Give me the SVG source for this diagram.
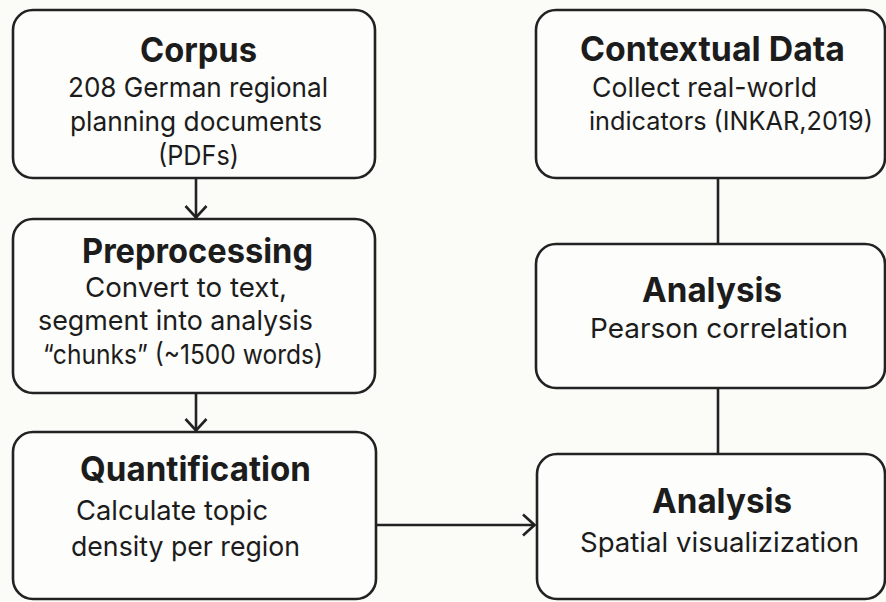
<svg xmlns="http://www.w3.org/2000/svg" width="886" height="602" viewBox="0 0 886 602">
<defs>
<style>
.box{fill:#fdfdfb;stroke:#222;stroke-width:2.6}
.t{font-family:Inter,"Liberation Sans",sans-serif;font-weight:700;font-size:34px;fill:#1c1c1c}
.b{font-family:Inter,"Liberation Sans",sans-serif;font-weight:400;font-size:27.5px;fill:#1c1c1c}
.ln{fill:none;stroke:#222;stroke-width:2.6}
</style>
<marker id="ah" viewBox="0 0 14 24" refX="13" refY="12" markerWidth="14" markerHeight="24" markerUnits="userSpaceOnUse" orient="auto">
<path d="M1,1.5 L12.5,12 L1,22.5" fill="none" stroke="#222" stroke-width="2.6"/>
</marker>
</defs>
<rect width="886" height="602" fill="#fbfbf8"/>
<g id="connectors">
<line class="ln" x1="196" y1="178" x2="196" y2="218" marker-end="url(#ah)"/>
<line class="ln" x1="196" y1="393" x2="196" y2="431" marker-end="url(#ah)"/>
<line class="ln" x1="376" y1="525" x2="535" y2="525" marker-end="url(#ah)"/>
<line class="ln" x1="718" y1="178" x2="718" y2="244"/>
<line class="ln" x1="718" y1="388" x2="718" y2="454"/>
</g>
<g id="corpus">
<rect class="box" x="13" y="10" width="362" height="168" rx="20"/>
<text class="t" x="140" y="62" textLength="117" lengthAdjust="spacingAndGlyphs">Corpus</text>
<text class="b" x="68" y="97" textLength="260" lengthAdjust="spacingAndGlyphs">208 German regional</text>
<text class="b" x="70" y="131" textLength="252" lengthAdjust="spacingAndGlyphs">planning documents</text>
<text class="b" x="158" y="165" textLength="81" lengthAdjust="spacingAndGlyphs">(PDFs)</text>
</g>
<g id="preprocessing">
<rect class="box" x="13" y="219" width="362" height="174" rx="20"/>
<text class="t" x="82" y="263" textLength="231" lengthAdjust="spacingAndGlyphs">Preprocessing</text>
<text class="b" x="85" y="297" textLength="202" lengthAdjust="spacingAndGlyphs">Convert to text,</text>
<text class="b" x="38" y="330" textLength="275" lengthAdjust="spacingAndGlyphs">segment into analysis</text>
<text class="b" x="43" y="364" textLength="280" lengthAdjust="spacingAndGlyphs">“chunks” (~1500 words)</text>
</g>
<g id="quantification">
<rect class="box" x="13" y="432" width="363" height="167" rx="20"/>
<text class="t" x="80" y="481" textLength="231" lengthAdjust="spacingAndGlyphs">Quantification</text>
<text class="b" x="76" y="520" textLength="192" lengthAdjust="spacingAndGlyphs">Calculate topic</text>
<text class="b" x="71" y="556" textLength="229" lengthAdjust="spacingAndGlyphs">density per region</text>
</g>
<g id="contextual">
<rect class="box" x="536" y="10" width="349" height="168" rx="20"/>
<text class="t" x="580" y="61" textLength="265" lengthAdjust="spacingAndGlyphs">Contextual Data</text>
<text class="b" x="592" y="97" textLength="225" lengthAdjust="spacingAndGlyphs">Collect real-world</text>
<text class="b" x="589" y="130" style="font-size:25.5px" textLength="284" lengthAdjust="spacingAndGlyphs">indicators (INKAR,2019)</text>
</g>
<g id="analysis-correlation">
<rect class="box" x="536" y="244" width="349" height="144" rx="20"/>
<text class="t" x="642" y="302" textLength="140" lengthAdjust="spacingAndGlyphs">Analysis</text>
<text class="b" x="590" y="338" textLength="258" lengthAdjust="spacingAndGlyphs">Pearson correlation</text>
</g>
<g id="analysis-spatial">
<rect class="box" x="537" y="454" width="348" height="145" rx="20"/>
<text class="t" x="652" y="513" textLength="140" lengthAdjust="spacingAndGlyphs">Analysis</text>
<text class="b" x="580" y="552" textLength="279" lengthAdjust="spacingAndGlyphs">Spatial visualizization</text>
</g>
</svg>
